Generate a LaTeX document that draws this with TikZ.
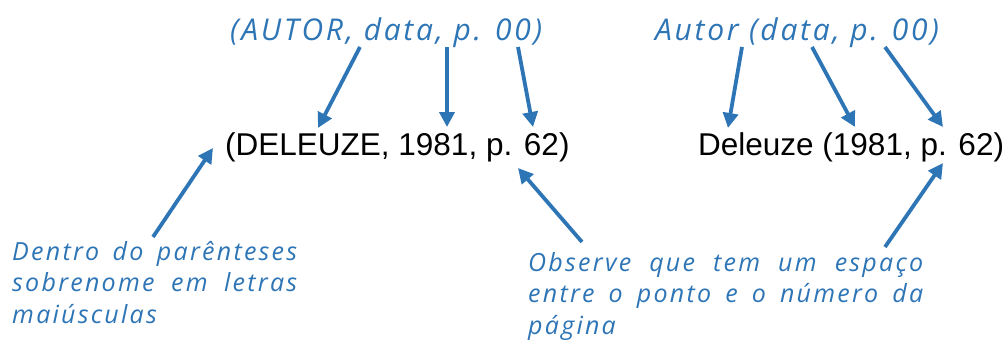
\documentclass[tikz,border=0pt]{standalone}
\usepackage{fontspec}
\setmainfont{Liberation Sans}
\newfontfamily\handfont[LetterSpace=9]{Open Sans}
\usetikzlibrary{arrows.meta}
\definecolor{penblue}{RGB}{46,117,182}

\tikzset{
  cite/.style={inner sep=0pt,anchor=base west,font=\fontsize{31.5}{31.5}\selectfont},
  pattern/.style={inner sep=0pt,anchor=base west,text=penblue,font=\handfont\itshape\fontsize{30}{30}\selectfont},
  note/.style={inner sep=0pt,anchor=base west,text=penblue,align=left,font=\handfont\itshape\fontsize{25}{31.5}\selectfont},
  pointer/.style={draw=penblue,line width=3.8pt,-{Triangle[length=15pt,width=15pt]}}
}

\begin{document}
\begin{tikzpicture}[x=1pt,y=-1pt]
\useasboundingbox (0,0) rectangle (1006,340);
% citacoes
\node[cite] (upper) at (225,155) {(DELEUZE, 1981, p. 62)};
\node[cite] (lower) at (698,155) {Deleuze (1981, p. 62)};
% modelos
\node[pattern] (modupper) at (230,40) {(AUTOR, data, p. 00)};
\node[pattern] (modlower) at (655,40) {Autor (data, p. 00)};
% notas (ancoradas na ultima linha)
\node[note] (notaleft) at (12,323) {\makebox[285pt][s]{Dentro do parênteses}\\
  \makebox[285pt][s]{sobrenome em letras}\\ maiúsculas};
\node[note] (notaright) at (528,334) {\makebox[395pt][s]{Observe que tem um espaço}\\
  \makebox[395pt][s]{entre o ponto e o número da}\\ página};
% pontos das setas
\coordinate (a1) at (360,47);  \coordinate (b1) at (318,128);
\coordinate (a2) at (447,47);  \coordinate (b2) at (447,127);
\coordinate (a3) at (518,47);  \coordinate (b3) at (533,127);
\coordinate (a4) at (742,47);  \coordinate (b4) at (728,128);
\coordinate (a5) at (812,47);  \coordinate (b5) at (855,127);
\coordinate (a6) at (885,47);  \coordinate (b6) at (943,127);
\coordinate (a7) at (153,237); \coordinate (b7) at (213,148);
\coordinate (a8) at (582,242); \coordinate (b8) at (518,168);
\coordinate (a9) at (885,247); \coordinate (b9) at (943,163);
\foreach \i in {1,...,9} \draw[pointer] (a\i) -- (b\i);
\end{tikzpicture}
\end{document}
